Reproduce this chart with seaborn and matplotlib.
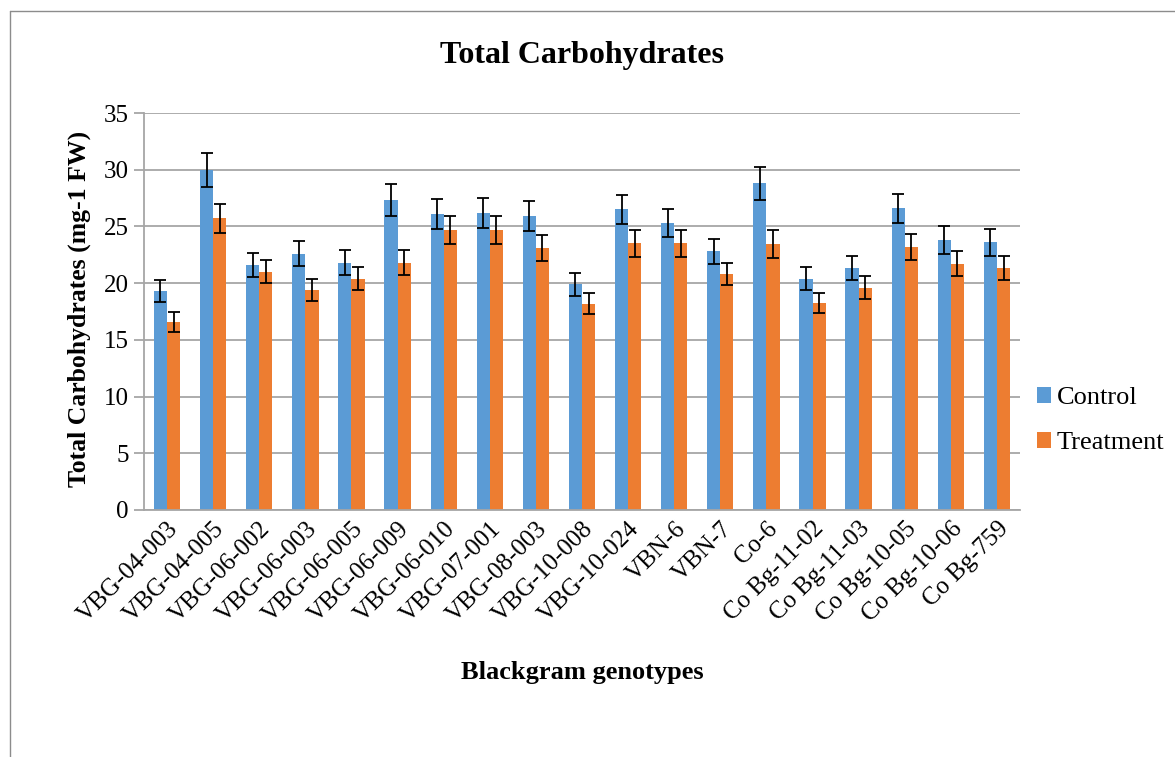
import seaborn as sns
import pandas as pd
import numpy as np
import matplotlib.pyplot as plt
from matplotlib.lines import Line2D

# data
genotypes = ['VBG-04-003', 'VBG-04-005', 'VBG-06-002', 'VBG-06-003', 'VBG-06-005',
             'VBG-06-009', 'VBG-06-010', 'VBG-07-001', 'VBG-08-003', 'VBG-10-008',
             'VBG-10-024', 'VBN-6', 'VBN-7', 'Co-6', 'Co Bg-11-02', 'Co Bg-11-03',
             'Co Bg-10-05', 'Co Bg-10-06', 'Co Bg-759']
control = [19.3, 30.0, 21.6, 22.6, 21.8, 27.3, 26.1, 26.2, 25.9, 19.9,
           26.5, 25.3, 22.8, 28.8, 20.4, 21.3, 26.6, 23.8, 23.6]
control_err = [1.0, 1.5, 1.05, 1.1, 1.1, 1.4, 1.3, 1.3, 1.3, 1.0,
               1.3, 1.25, 1.1, 1.45, 1.0, 1.05, 1.3, 1.2, 1.2]
treatment = [16.6, 25.7, 21.0, 19.4, 20.4, 21.8, 24.7, 24.7, 23.1, 18.2,
             23.5, 23.5, 20.8, 23.45, 18.25, 19.6, 23.2, 21.7, 21.3]
treatment_err = [0.9, 1.3, 1.0, 1.0, 1.0, 1.1, 1.25, 1.25, 1.15, 0.9,
                 1.2, 1.2, 1.0, 1.2, 0.9, 1.0, 1.15, 1.1, 1.05]

df = pd.DataFrame({
    'genotype': genotypes * 2,
    'value': control + treatment,
    'group': ['Control'] * len(genotypes) + ['Treatment'] * len(genotypes),
})

sns.set_style('white')
plt.rcParams['font.family'] = ['Liberation Serif', 'DejaVu Serif']
plt.rcParams['text.color'] = 'black'
plt.rcParams['axes.labelcolor'] = 'black'

fig = plt.figure(figsize=(11.75, 7.57), dpi=100)
ax = fig.add_axes([144 / 1175, 1 - 510 / 757, 876 / 1175, 397 / 757])

colors = {'Control': '#5B9BD5', 'Treatment': '#ED7D31'}
sns.barplot(data=df, x='genotype', y='value', hue='group', palette=colors,
            saturation=1, width=0.57, errorbar=None, ax=ax, edgecolor='none')

# error bars on top of each bar
for cont, errs in zip(ax.containers, [control_err, treatment_err]):
    xs = [b.get_x() + b.get_width() / 2 for b in cont]
    ys = [b.get_height() for b in cont]
    ax.errorbar(xs, ys, yerr=errs, fmt='none', ecolor='black', elinewidth=1.3,
                capsize=4.5, capthick=1.3, zorder=5)

ax.set_xlim(-0.5, len(genotypes) - 0.5)
ax.set_ylim(0, 35)
ax.set_yticks(range(0, 36, 5))
ax.yaxis.grid(True, color='#a6a6a6', linewidth=1.3)
ax.set_axisbelow(True)
for s in ['top', 'right']:
    ax.spines[s].set_visible(False)
ax.spines['left'].set_color('#a6a6a6')
ax.spines['bottom'].set_color('#a6a6a6')
ax.spines['left'].set_linewidth(1.3)
ax.spines['bottom'].set_linewidth(1.3)
ax.tick_params(axis='y', which='major', left=True, length=7, color='#a6a6a6',
               width=1.3, labelsize=18, pad=4, labelcolor='black')
ax.tick_params(axis='x', bottom=False, labelsize=18, pad=2, labelcolor='black')
plt.setp(ax.get_xticklabels(), rotation=45, ha='right', rotation_mode='anchor')

ax.set_title('Total Carbohydrates', fontsize=23, fontweight='bold', pad=36)
ax.set_xlabel('Blackgram genotypes', fontsize=19, fontweight='bold', va='center')
ax.xaxis.set_label_coords(0.5, (510 - 672) / 397)
ax.set_ylabel('Total Carbohydrates (mg-1 FW)', fontsize=18.5, fontweight='bold', va='center')
ax.yaxis.set_label_coords((79 - 144) / 876, 0.506)

ax.legend(title=None, frameon=False, loc='center left', bbox_to_anchor=(0.992, 0.225),
          fontsize=19, handlelength=0.55, handleheight=0.55, handletextpad=0.22,
          labelspacing=0.85)

# outer chart border
fig.add_artist(Line2D([10 / 1175, 1], [1 - 11 / 757, 1 - 11 / 757],
                      transform=fig.transFigure, color='#8c8c8c', linewidth=1))
fig.add_artist(Line2D([10 / 1175, 10 / 1175], [0, 1 - 11 / 757],
                      transform=fig.transFigure, color='#8c8c8c', linewidth=1))

fig.savefig('out.png', dpi=100)
